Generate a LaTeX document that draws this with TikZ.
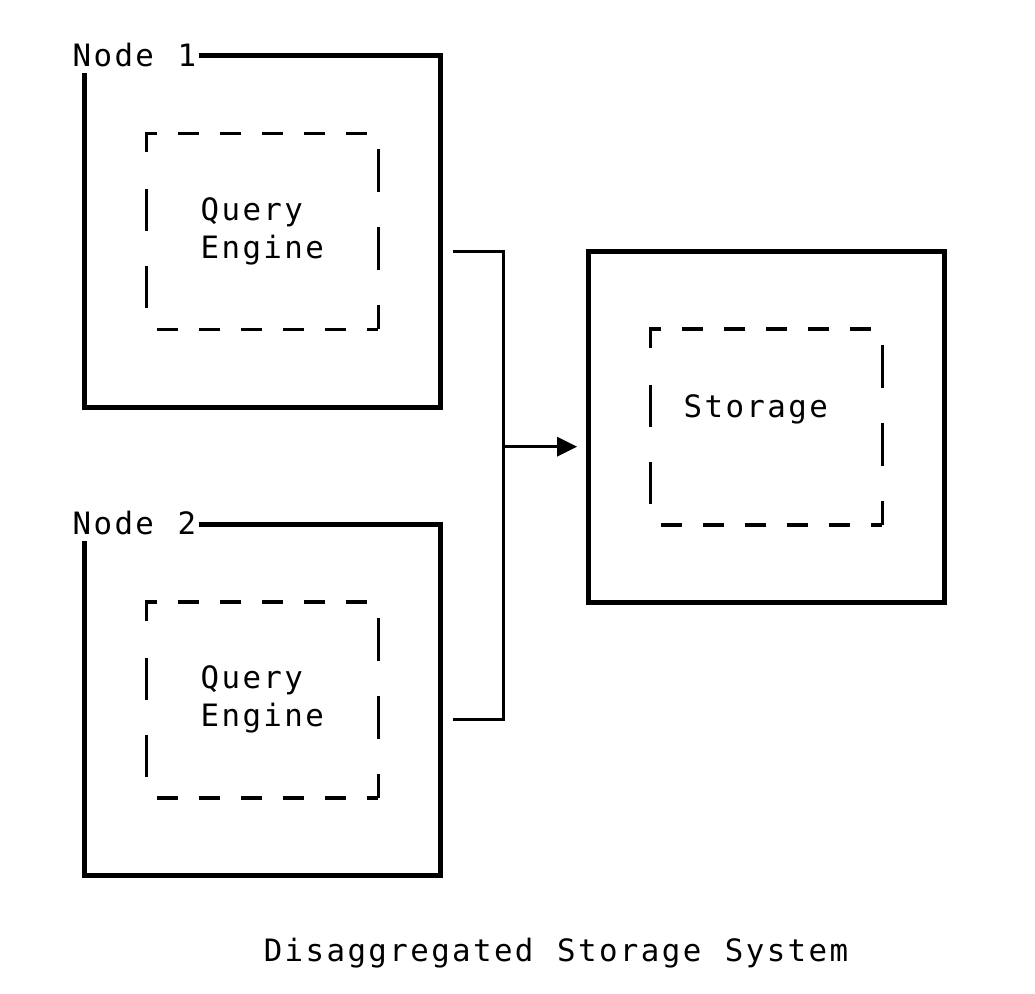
\documentclass[tikz,border=0pt]{standalone}
\usepackage{fontspec}
\newfontfamily\asciifont[LetterSpace=7.76,WordSpace=1.129]{DejaVu Sans Mono}
\usetikzlibrary{arrows.meta,positioning}

% dashed ascii frame round an inner node
\newcommand\dashedframe[1]{%
  \draw[frame] ([yshift=-19pt]#1.north west) -- (#1.north west) -- ([xshift=11pt]#1.north west);
  \draw[frame,dash pattern=on 21pt off 21pt] ([xshift=32pt]#1.north west) -- ([xshift=-11pt]#1.north east);
  \draw[frame,dash pattern=on 43pt off 35pt] ([yshift=-16pt]#1.north east) -- (#1.south east);
  \draw[frame,dash pattern=on 21pt off 21pt] ([xshift=11pt]#1.south west) -- (#1.south east);
  \draw[frame,dash pattern=on 42pt off 35pt] ([yshift=-56pt]#1.north west) -- ([yshift=21pt]#1.south west);
}

\begin{document}
\begin{tikzpicture}[x=1pt,y=-1pt,node distance=468.5pt,font=\asciifont\fontsize{30.8pt}{38pt}\selectfont]
  \tikzstyle{box}=[draw,line width=5pt,minimum width=356.5pt,minimum height=351.5pt,inner sep=0pt,outer sep=0pt]
  \tikzstyle{inbox}=[minimum width=232pt,minimum height=196pt,inner sep=0pt,outer sep=0pt,align=left]
  \tikzstyle{frame}=[line width=3.5pt]
  \tikzstyle{tag}=[fill=white,inner xsep=2.5pt,inner ysep=0pt,text depth=6.7pt,anchor=base west]
  \tikzstyle{wire}=[line width=3pt]

  \useasboundingbox (0,0) rectangle (1035,993);

  \node[box]   (n1) at (262.25,231.25) {};
  \node[box]   (n2) [below of=n1] {};
  \node[box]   (st) at (766.25,426.75) {};

  \node[tag]   (t1) at ([xshift=-14pt,yshift=-10.5pt]n1.north west) {Node 1};
  \node[tag]   (t2) at ([xshift=-14pt,yshift=-10.5pt]n2.north west) {Node 2};

  \node[inbox] (qe1) at (n1) {Query\\Engine};
  \node[inbox] (qe2) at (n2) {Query\\Engine};
  \node[inbox] (sto) at (st) [label={[xshift=-10.5pt,yshift=17.8pt]center:Storage}] {};
  \dashedframe{qe1}
  \dashedframe{qe2}
  \dashedframe{sto}

  \coordinate (j) at (503.3,446.7);
  \draw[wire] ([xshift=12pt,yshift=-19.75pt]n1.east) -| (j);
  \draw[wire] ([xshift=12pt,yshift=-19.5pt]n2.east) -| (j);
  \draw[wire,-{Triangle[length=20pt,width=19pt]},shorten >=10.8pt] (j) -- (j -| st.west);

  \node[anchor=base] (cap) at (556,961.7) {Disaggregated Storage System};
\end{tikzpicture}
\end{document}
